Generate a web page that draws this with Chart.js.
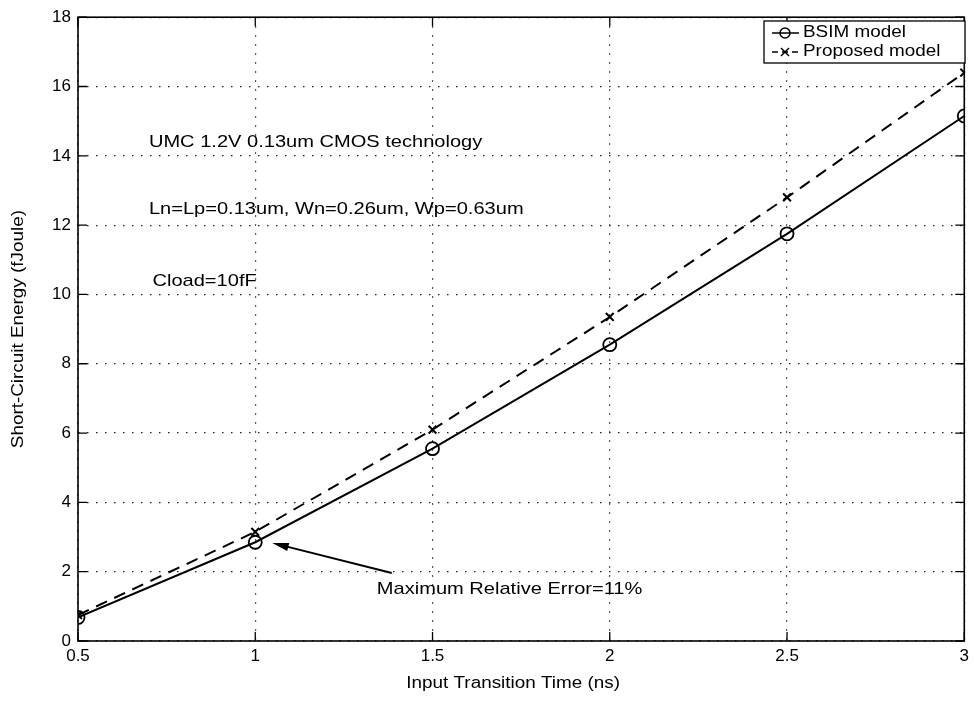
<!DOCTYPE html>
<html lang="en">
<head>
  <meta charset="UTF-8" />
  <title>Short-Circuit Energy vs Input Transition Time</title>
  <style>
    body { margin: 0; padding: 0; background: #fff; }
    #chartWrap { width: 974px; height: 702px; }
  </style>
</head>
<body>
  <div id="chartWrap">
    <canvas id="energyChart" width="974" height="702"></canvas>
  </div>

  <script src="https://cdn.jsdelivr.net/npm/chart.js"></script>
  <script>
    // Input transition time (ns)
    const transitionTimes = [0.5, 1, 1.5, 2, 2.5, 3];
    // Short-circuit energy (fJ)
    const bsimEnergy = [0.68, 2.85, 5.55, 8.55, 11.75, 15.15];
    const proposedEnergy = [0.75, 3.15, 6.1, 9.35, 12.8, 16.4];

    const xTickLabels = ['0.5', '1', '1.5', '2', '2.5', '3'];
    const yTickLabels = ['0', '2', '4', '6', '8', '10', '12', '14', '16', '18'];

    const xAxisTitle = 'Input Transition Time (ns)';
    const yAxisTitle = 'Short-Circuit Energy (fJoule)';

    // text notes placed in data coordinates
    const notes = [
      { text: 'UMC 1.2V 0.13um CMOS technology', x: 0.70, y: 14.4 },
      { text: 'Ln=Lp=0.13um, Wn=0.26um, Wp=0.63um', x: 0.70, y: 12.45 },
      { text: 'Cload=10fF', x: 0.71, y: 10.38 },
      { text: 'Maximum Relative Error=11%', x: 1.343, y: 1.5 }
    ];
    const arrowFrom = { x: 1.385, y: 1.96 };
    const arrowTo = { x: 1.048, y: 2.83 };

    const FONT = 'Liberation Sans, Arial, Helvetica, sans-serif';
    const WIDEN = 1.18; // text in this figure is drawn a bit wide

    const toPoints = (ys) => transitionTimes.map((t, i) => ({ x: t, y: ys[i] }));

    function wideText(ctx, text, x, y, size, align, rot) {
      ctx.save();
      ctx.translate(x, y);
      if (rot) ctx.rotate(rot);
      ctx.scale(WIDEN, 1);
      ctx.font = size + 'px ' + FONT;
      ctx.textAlign = align || 'left';
      ctx.textBaseline = 'middle';
      ctx.fillText(text, 0, 0);
      ctx.restore();
    }

    // box frame + inward ticks, notes, arrow and legend
    const axesFrame = {
      id: 'axesFrame',
      afterDatasetsDraw(chart) {
        const { ctx, chartArea: a, scales: { x, y } } = chart;
        const tick = 9;
        ctx.save();
        ctx.strokeStyle = '#000';
        ctx.fillStyle = '#000';
        ctx.lineWidth = 1.3;
        ctx.beginPath();
        transitionTimes.forEach((t) => {
          const px = x.getPixelForValue(t);
          ctx.moveTo(px, a.bottom); ctx.lineTo(px, a.bottom - tick);
          ctx.moveTo(px, a.top); ctx.lineTo(px, a.top + tick);
        });
        yTickLabels.forEach((v) => {
          const py = y.getPixelForValue(+v);
          ctx.moveTo(a.left, py); ctx.lineTo(a.left + tick, py);
          ctx.moveTo(a.right, py); ctx.lineTo(a.right - tick, py);
        });
        ctx.stroke();
        ctx.lineWidth = 1.6;
        ctx.strokeRect(a.left, a.top, a.right - a.left, a.bottom - a.top);

        // axis titles
        wideText(ctx, xAxisTitle, (a.left + a.right) / 2 - 8, 684, 16, 'center');
        wideText(ctx, yAxisTitle, 19, (a.top + a.bottom) / 2, 16, 'center', -Math.PI / 2);

        // notes and arrow
        notes.forEach((n) => {
          wideText(ctx, n.text, x.getPixelForValue(n.x), y.getPixelForValue(n.y), 17);
        });
        const x0 = x.getPixelForValue(arrowFrom.x), y0 = y.getPixelForValue(arrowFrom.y);
        const x1 = x.getPixelForValue(arrowTo.x), y1 = y.getPixelForValue(arrowTo.y);
        const ang = Math.atan2(y1 - y0, x1 - x0);
        ctx.lineWidth = 2;
        ctx.beginPath();
        ctx.moveTo(x0, y0);
        ctx.lineTo(x1 - 12 * Math.cos(ang), y1 - 12 * Math.sin(ang));
        ctx.stroke();
        ctx.beginPath();
        ctx.moveTo(x1, y1);
        ctx.lineTo(x1 - 17 * Math.cos(ang - 0.25), y1 - 17 * Math.sin(ang - 0.25));
        ctx.lineTo(x1 - 17 * Math.cos(ang + 0.25), y1 - 17 * Math.sin(ang + 0.25));
        ctx.closePath();
        ctx.fill();

        // legend box, top right inside the axes
        const datasets = chart.data.datasets;
        const bx = 764, by = 21, bw = 201, rowH = 19;
        const bh = rowH * datasets.length + 4;
        ctx.fillStyle = '#fff';
        ctx.fillRect(bx, by, bw, bh);
        ctx.lineWidth = 1.3;
        ctx.strokeStyle = '#000';
        ctx.strokeRect(bx, by, bw, bh);
        datasets.forEach((ds, i) => {
          const cy = by + 12 + i * rowH;
          ctx.lineWidth = 1.5;
          ctx.setLineDash(ds.borderDash ? [6, 4] : []);
          ctx.beginPath();
          ctx.moveTo(bx + 8, cy);
          ctx.lineTo(bx + 35, cy);
          ctx.stroke();
          ctx.setLineDash([]);
          const mx = bx + 21;
          ctx.beginPath();
          if (ds.pointStyle === 'circle') {
            ctx.arc(mx, cy, 5, 0, Math.PI * 2);
          } else {
            ctx.moveTo(mx - 4, cy - 4); ctx.lineTo(mx + 4, cy + 4);
            ctx.moveTo(mx - 4, cy + 4); ctx.lineTo(mx + 4, cy - 4);
          }
          ctx.stroke();
          ctx.fillStyle = '#000';
          wideText(ctx, ds.label, bx + 39, cy, 16);
        });
        ctx.restore();
      }
    };

    const ctxEnergy = document.getElementById('energyChart').getContext('2d');
    const energyChart = new Chart(ctxEnergy, {
      type: 'line',
      data: {
        datasets: [
          {
            label: 'BSIM model',
            data: toPoints(bsimEnergy),
            borderColor: '#000',
            borderWidth: 2,
            pointStyle: 'circle',
            pointRadius: 6.5,
            pointBorderWidth: 1.8,
            pointBorderColor: '#000',
            pointBackgroundColor: 'rgba(0,0,0,0)',
            tension: 0
          },
          {
            label: 'Proposed model',
            data: toPoints(proposedEnergy),
            borderColor: '#000',
            borderWidth: 2,
            borderDash: [12, 8],
            pointStyle: 'crossRot',
            pointRadius: 5.5,
            pointBorderWidth: 2,
            pointBorderColor: '#000',
            tension: 0
          }
        ]
      },
      options: {
        responsive: false,
        animation: false,
        layout: { padding: { left: 0, top: 17, right: 6, bottom: 0 } },
        plugins: {
          legend: { display: false },
          tooltip: { enabled: false }
        },
        scales: {
          x: {
            type: 'linear',
            min: 0.5,
            max: 3,
            afterFit: (s) => { s.height = 61; },
            afterBuildTicks: (s) => { s.ticks = transitionTimes.map((v) => ({ value: v })); },
            ticks: {
              color: '#000',
              font: { family: FONT, size: 17 },
              padding: 5,
              callback: (v) => xTickLabels[transitionTimes.indexOf(v)]
            },
            grid: { color: '#222', lineWidth: 1.2, drawTicks: false },
            border: { display: false, dash: [1.5, 7.5] },
            title: { display: false }
          },
          y: {
            min: 0,
            max: 18,
            afterFit: (s) => { s.width = 78; },
            afterBuildTicks: (s) => { s.ticks = yTickLabels.map((v) => ({ value: +v })); },
            ticks: {
              color: '#000',
              font: { family: FONT, size: 17 },
              padding: 7,
              callback: (v) => yTickLabels[yTickLabels.indexOf(String(v))]
            },
            grid: { color: '#222', lineWidth: 1.2, drawTicks: false },
            border: { display: false, dash: [1.5, 7.5] },
            title: { display: false }
          }
        }
      },
      plugins: [axesFrame]
    });
  </script>
</body>
</html>
